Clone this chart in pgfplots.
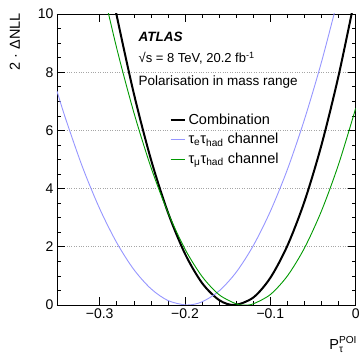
\documentclass[border=0pt]{standalone}
\usepackage{amsmath}
\usepackage{fontspec}
\setmainfont{Liberation Sans}
\usepackage{pgfplots}
\pgfplotsset{compat=1.18}
\definecolor{eblue}{RGB}{150,150,255}
\definecolor{mgreen}{RGB}{0,153,0}
\begin{document}
\begin{tikzpicture}
\begin{axis}[
  name=ax, at={(0,0)}, anchor=south west,
  scale only axis, width=298.7pt, height=291pt,
  xmin=-0.35, xmax=0, ymin=0, ymax=10,
  xtick={-0.3,-0.2,-0.1,0}, xticklabels={−0.3,−0.2,−0.1,0},
  minor x tick num=4,
  ytick={0,2,4,6,8,10}, minor y tick num=3,
  tick align=inside, xtick pos=both, ytick pos=both,
  xticklabel pos=lower, yticklabel pos=left,
  major tick length=8pt, minor tick length=4pt,
  tick style={line width=0.6pt, black},
  axis line style={line width=0.8pt},
  ymajorgrids, grid style={gray!70, dotted, line width=0.6pt},
  tick label style={font=\fontsize{14}{16}\selectfont},
  /pgf/number format/assume math mode=true,
  xlabel={$\text{P}^{\text{POI}}_{\text{τ}}$},
  xlabel style={at={(axis description cs:1,0)}, anchor=north east, inner sep=0pt, yshift=-31pt, xshift=1.5pt, font=\fontsize{14.5}{16}\selectfont},
  ylabel={2 · ΔNLL},
  ylabel style={at={(axis description cs:0,1)}, anchor=south east, inner sep=0pt, yshift=37pt, xshift=1pt, font=\fontsize{14.5}{16}\selectfont},
  legend style={draw=none, fill=none, at={(axis cs:-0.2184,6.63)}, anchor=north west, inner sep=0pt,
    font=\fontsize{14.5}{17}\selectfont, row sep=3.5pt,
    nodes={inner sep=0pt, text height=12pt, text depth=4pt},
    /tikz/every odd column/.append style={column sep=3pt}},
  legend cell align=left,
  legend image code/.code={\draw[#1] (0pt,0pt) -- (14pt,0pt);},
]
\addplot[black, line width=2pt, smooth] coordinates {
(-0.29,11.43) (-0.28,9.94) (-0.26,7.27) (-0.24,5.01) (-0.22,3.18) (-0.20,1.76) (-0.18,0.754) (-0.16,0.169) (-0.142,0) (-0.12,0.257) (-0.10,0.935) (-0.08,2.04) (-0.06,3.56) (-0.04,5.51) (-0.02,7.89) (0,10.69)
};
\addlegendentry{Combination}
\addplot[eblue, line width=0.9pt, smooth] coordinates {
(-0.35,7.35) (-0.34,6.41) (-0.32,4.73) (-0.30,3.31) (-0.28,2.14) (-0.26,1.22) (-0.24,0.561) (-0.22,0.154) (-0.198,0) (-0.18,0.109) (-0.16,0.484) (-0.14,1.127) (-0.12,2.04) (-0.10,3.22) (-0.08,4.66) (-0.06,6.38) (-0.04,8.36) (-0.02,10.61)
};
\addlegendentry{τ\textsubscript{e}τ\textsubscript{had} channel}
\addplot[mgreen, line width=0.9pt, smooth] coordinates {
(-0.30,11.33) (-0.28,8.82) (-0.26,6.62) (-0.24,4.74) (-0.22,3.18) (-0.20,1.92) (-0.18,0.98) (-0.16,0.353) (-0.14,0.039) (-0.13,0) (-0.12,0.04) (-0.10,0.36) (-0.08,1.00) (-0.06,1.96) (-0.04,3.24) (-0.02,4.84) (0,6.76)
};
\addlegendentry{τ\textsubscript{μ}τ\textsubscript{had} channel}
\node[anchor=base west, inner sep=0pt, font=\fontsize{13.5}{16}\selectfont\bfseries\itshape] at (axis cs:-0.2546,9.04) {ATLAS};
\node[anchor=base west, inner sep=0pt, font=\fontsize{13}{16}\selectfont] at (axis cs:-0.2546,8.32) {√s = 8 TeV, 20.2 fb\textsuperscript{-1}};
\node[anchor=base west, inner sep=0pt, font=\fontsize{13.5}{16}\selectfont] at (axis cs:-0.2546,7.53) {Polarisation in mass range};
\end{axis}
\pgfresetboundingbox
\path[use as bounding box] ([xshift=-57pt,yshift=-51pt]ax.south west) rectangle ([xshift=3.3pt,yshift=14pt]ax.north east);
\end{tikzpicture}
\end{document}
